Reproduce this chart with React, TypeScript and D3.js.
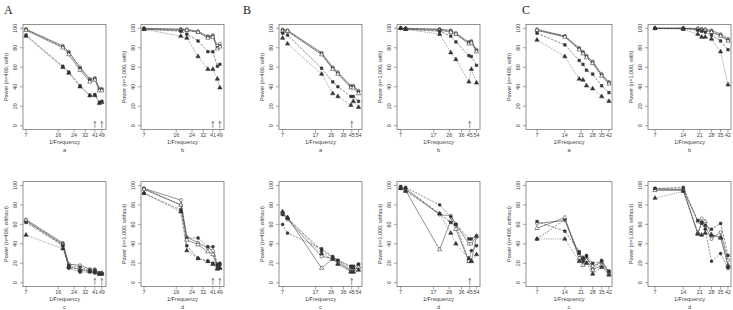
import React from "react";
import * as d3 from "d3";

// ---------- labels ----------
const groupLetters = ["A", "B", "C"];
const panelLetters = ["a", "b", "c", "d"];
const yTitles = [
  "Power (n=400, with)",
  "Power (n=1,000, with)",
  "Power (n=400, without)",
  "Power (n=1,000, without)",
];
const xTitle = "1/Frequency";
const yTicks = [0, 20, 40, 60, 80, 100];

// ---------- x values (1/frequency) ----------
const xA = [7, 18, 21, 28, 36, 41, 46, 49];
const xB = [7, 8, 20, 27, 31, 44, 47, 54];
const xC = [7, 14, 20, 22, 24, 28, 35, 42];
const ticksA = [7, 16, 24, 32, 41, 49];
const ticksB = [7, 17, 26, 36, 45, 54];
const ticksC = [7, 14, 21, 28, 35, 42];
const arrowsA = [41, 49];
const arrowsB = [45];
const arrowsC: number[] = [];

// ---------- power values: rows = series (open circle, filled circle, open triangle, filled square, filled triangle) ----------
const powerAa = [
  [99, 82, 76, 60, 48, 49, 38, 38],
  [99, 81, 75, 59, 47, 48, 37, 37],
  [98, 80, 73, 57, 45, 47, 36, 36],
  [93, 61, 55, 41, 31, 32, 24, 25],
  [92, 60, 54, 40, 31, 31, 23, 24],
];
const powerAb = [
  [100, 99, 99, 97, 92, 93, 82, 84],
  [100, 99, 98, 96, 91, 92, 80, 82],
  [99, 98, 98, 96, 90, 91, 79, 81],
  [99, 97, 94, 87, 76, 76, 61, 63],
  [99, 92, 90, 71, 58, 58, 48, 39],
];
const powerAc = [
  [65, 41, 19, 18, 14, 14, 10, 10],
  [63, 40, 18, 16, 13, 13, 10, 10],
  [64, 39, 16, 14, 12, 11, 9, 10],
  [62, 38, 15, 11, 11, 10, 9, 9],
  [49, 35, 17, 13, 12, 12, 9, 9],
];
const powerAd = [
  [97, 85, 47, 41, 36, 33, 17, 18],
  [97, 80, 46, 46, 37, 37, 19, 20],
  [96, 80, 44, 39, 32, 29, 15, 15],
  [92, 75, 38, 25, 22, 20, 17, 19],
  [92, 73, 33, 25, 22, 19, 14, 15],
];
const powerBa = [
  [99, 98, 75, 60, 55, 41, 41, 36],
  [98, 97, 74, 59, 54, 40, 40, 35],
  [97, 97, 73, 58, 53, 39, 39, 33],
  [95, 93, 59, 45, 40, 30, 30, 25],
  [90, 84, 53, 33, 30, 21, 25, 19],
];
const powerBb = [
  [100, 100, 99, 98, 95, 86, 87, 78],
  [100, 100, 99, 97, 94, 85, 86, 77],
  [100, 99, 98, 96, 94, 84, 85, 76],
  [100, 99, 97, 92, 86, 72, 71, 62],
  [100, 99, 94, 75, 68, 45, 58, 44],
];
const powerBc = [
  [72, 65, 27, 25, 22, 13, 13, 16],
  [60, 51, 35, 27, 23, 16, 15, 19],
  [71, 67, 15, 25, 20, 12, 12, 16],
  [70, 66, 33, 26, 23, 17, 17, 19],
  [73, 67, 30, 24, 19, 11, 11, 13],
];
const powerBd = [
  [98, 96, 70, 69, 60, 40, 40, 47],
  [97, 98, 80, 68, 60, 22, 33, 38],
  [98, 95, 34, 64, 55, 22, 22, 48],
  [99, 97, 71, 62, 60, 45, 45, 48],
  [97, 94, 71, 51, 40, 25, 22, 29],
];
const powerCa = [
  [99, 92, 80, 76, 72, 66, 53, 45],
  [98, 92, 79, 75, 71, 65, 52, 44],
  [98, 91, 78, 74, 70, 64, 51, 43],
  [95, 83, 67, 63, 57, 53, 41, 34],
  [88, 71, 48, 47, 41, 38, 30, 25],
];
const powerCb = [
  [100, 100, 100, 99, 99, 98, 94, 89],
  [100, 100, 99, 99, 98, 97, 93, 88],
  [100, 100, 99, 98, 98, 96, 92, 87],
  [100, 100, 98, 97, 96, 93, 87, 78],
  [100, 99, 94, 91, 91, 89, 76, 42],
];
const powerCc = [
  [61, 64, 28, 26, 25, 17, 21, 10],
  [45, 65, 30, 25, 28, 14, 23, 11],
  [56, 67, 25, 18, 23, 13, 18, 9],
  [63, 53, 32, 22, 27, 20, 22, 12],
  [45, 45, 22, 25, 20, 9, 16, 8],
];
const powerCd = [
  [96, 96, 63, 66, 58, 45, 52, 23],
  [97, 96, 51, 61, 55, 22, 30, 15],
  [95, 95, 51, 62, 63, 49, 47, 18],
  [97, 98, 64, 62, 59, 55, 61, 28],
  [87, 94, 50, 49, 51, 49, 46, 17],
];

// ---------- layout ----------
const W = 733;
const H = 310;
const rowBoxes = [
  [24.4, 129.6],
  [181.6, 286.6],
];
const groups = [
  {
    x: xA, ticks: ticksA, arrows: arrowsA, letterX: 4,
    cols: [[23, 106], [141, 224]],
    domains: [[6.48, 54.5], [6.48, 54.5]],
    data: [powerAa, powerAb, powerAc, powerAd],
  },
  {
    x: xB, ticks: ticksB, arrows: arrowsB, letterX: 243,
    cols: [[279, 362], [397, 480]],
    domains: [[6.35, 59.3], [6.35, 59.3]],
    data: [powerBa, powerBb, powerBc, powerBd],
  },
  {
    x: xC, ticks: ticksC, arrows: arrowsC, letterX: 522,
    cols: [[526, 612], [648, 731]],
    domains: [[5.32, 45.3], [5.89, 45.2]],
    data: [powerCa, powerCb, powerCc, powerCd],
  },
];

const INK = "#333";
const FONT = "'Liberation Sans', Arial, sans-serif";
const seriesStyles = [
  { type: d3.symbolCircle, size: 7.5, filled: false, dash: "" },
  { type: d3.symbolCircle, size: 6.5, filled: true, dash: "2,1.2" },
  { type: d3.symbolTriangle, size: 8, filled: false, dash: "" },
  { type: d3.symbolSquare, size: 6.5, filled: true, dash: "2.6,1.2" },
  { type: d3.symbolTriangle, size: 8, filled: true, dash: "0.8,1" },
];

function Panel({ g, p }: { g: (typeof groups)[number]; p: number }) {
  const col = p % 2;
  const row = Math.floor(p / 2);
  const [x0, x1] = g.cols[col];
  const [y0, y1] = rowBoxes[row];
  const xs = d3.scaleLog().domain(g.domains[col]).range([x0, x1]);
  const ys = d3.scaleLinear().domain([-4, 104]).range([y1, y0]);
  const series = g.data[p];
  const line = d3
    .line<number>()
    .x((_, i) => xs(g.x[i]))
    .y((d) => ys(d));
  return (
    <g>
      <rect x={x0} y={y0} width={x1 - x0} height={y1 - y0} fill="none" stroke="#777" strokeWidth={0.8} />
      {yTicks.map((t) => (
        <g key={"yt" + t}>
          <line x1={x0 - 3} x2={x0} y1={ys(t)} y2={ys(t)} stroke="#666" strokeWidth={0.6} />
          <text
            transform={`translate(${x0 - 6.5},${ys(t)}) rotate(-90)`}
            textAnchor="middle"
            fontSize={5.4}
            fontFamily={FONT}
            fill="#444"
          >
            {t}
          </text>
        </g>
      ))}
      {g.ticks.map((t) => (
        <g key={"xt" + t}>
          <line x1={xs(t)} x2={xs(t)} y1={y1} y2={y1 + 3} stroke="#666" strokeWidth={0.6} />
          <text x={xs(t)} y={y1 + 7} textAnchor="middle" fontSize={5.4} fontFamily={FONT} fill="#444">
            {t}
          </text>
        </g>
      ))}
      {g.arrows.map((a) => (
        <g key={"ar" + a}>
          <line x1={xs(a)} x2={xs(a)} y1={ys(-2.5)} y2={ys(4.5)} stroke="#555" strokeWidth={0.6} />
          <polyline
            points={`${xs(a) - 1.2},${ys(2.5)} ${xs(a)},${ys(4.5)} ${xs(a) + 1.2},${ys(2.5)}`}
            fill="none"
            stroke="#555"
            strokeWidth={0.6}
          />
        </g>
      ))}
      {series.map((vals, si) => (
        <path
          key={"l" + si}
          d={line(vals) || ""}
          fill="none"
          stroke={INK}
          strokeWidth={0.55}
          strokeDasharray={seriesStyles[si].dash}
        />
      ))}
      {series.map((vals, si) =>
        vals.map((v, i) => {
          const st = seriesStyles[si];
          const path = d3.symbol().type(st.type).size(st.size)() || "";
          return (
            <path
              key={`m${si}-${i}`}
              d={path}
              transform={`translate(${xs(g.x[i])},${ys(v)})`}
              fill={st.filled ? INK : "white"}
              stroke={INK}
              strokeWidth={0.55}
            />
          );
        })
      )}
      <text x={(x0 + x1) / 2} y={y1 + 14.8} textAnchor="middle" fontSize={5.6} fontFamily={FONT} fill="#444">
        {xTitle}
      </text>
      <text x={(x0 + x1) / 2} y={y1 + 22.5} textAnchor="middle" fontSize={5.6} fontFamily={FONT} fill="#444">
        {panelLetters[p]}
      </text>
      <text
        transform={`translate(${x0 - 15},${(y0 + y1) / 2}) rotate(-90)`}
        textAnchor="middle"
        fontSize={5.4}
        fontFamily={FONT}
        fill="#444"
      >
        {yTitles[p]}
      </text>
    </g>
  );
}

export default function App() {
  return (
    <svg
      width={W}
      height={H}
      viewBox={`0 0 ${W} ${H}`}
      style={{ position: "absolute", left: 0, top: 0, background: "white" }}
    >
      <rect x={0} y={0} width={W} height={H} fill="white" />
      {groups.map((g, gi) => (
        <g key={"g" + gi}>
          <text x={g.letterX} y={14} fontSize={12} fontFamily="'Liberation Serif', 'Times New Roman', serif" fill="#222">
            {groupLetters[gi]}
          </text>
          {[0, 1, 2, 3].map((p) => (
            <Panel key={p} g={g} p={p} />
          ))}
        </g>
      ))}
    </svg>
  );
}
